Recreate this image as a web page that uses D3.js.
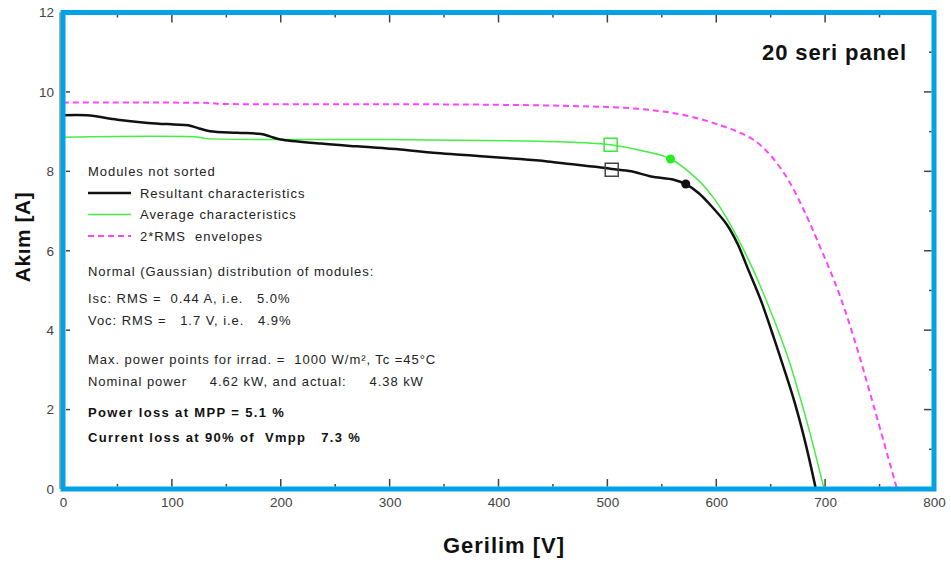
<!DOCTYPE html>
<html>
<head>
<meta charset="utf-8">
<script src="https://cdn.jsdelivr.net/npm/d3@7"></script>
<style>
  html, body { margin: 0; padding: 0; background: #fff; }
  svg { display: block; font-family: "Liberation Sans", Arial, sans-serif; }
  text { white-space: pre; }
</style>
</head>
<body>
<svg id="chart" width="951" height="562"></svg>
<script>
// I-V characteristics of a 20-module series string
const resultantV = [0, 22, 50, 78, 102, 115, 125, 135, 160, 182, 190, 200, 237, 270, 310, 340, 365, 384, 420, 445, 470, 491, 504, 522, 540, 561, 572, 584, 595, 610, 620, 629, 641, 653, 662, 672, 682, 691.5];
const resultantI = [9.41, 9.41, 9.30, 9.22, 9.18, 9.16, 9.08, 9.01, 8.97, 8.94, 8.88, 8.80, 8.70, 8.63, 8.55, 8.47, 8.42, 8.38, 8.31, 8.25, 8.17, 8.11, 8.06, 8.00, 7.87, 7.79, 7.68, 7.45, 7.14, 6.65, 6.15, 5.55, 4.75, 3.80, 3.05, 2.18, 1.15, 0];

const averageV = [0, 125, 130, 300, 436, 480, 503, 530, 558, 583, 597, 610.5, 630, 647, 666, 684, 699];
const averageI = [8.86, 8.86, 8.83, 8.80, 8.76, 8.72, 8.67, 8.53, 8.31, 7.79, 7.35, 6.78, 5.75, 4.68, 3.30, 1.62, 0];

const envelopeV = [0, 135, 145, 300, 384, 460, 500, 531, 550, 570, 590, 607, 622, 635, 650, 666, 680, 693, 711.5, 726.5, 745, 766];
const envelopeI = [9.73, 9.72, 9.70, 9.69, 9.68, 9.65, 9.62, 9.57, 9.51, 9.42, 9.28, 9.13, 8.97, 8.78, 8.40, 7.79, 7.05, 6.25, 5.02, 3.80, 2.05, 0];

// operating points: squares at 90% of Vmpp, dots at the maximum power point
const squarePoints = [{v: 503, i: 8.67, c: "#33ee33"}, {v: 504, i: 8.04, c: "#444"}];
const mppPoints = [{v: 558, i: 8.31, c: "#22ee22"}, {v: 572, i: 7.68, c: "#111"}];

const xTicks = [0, 100, 200, 300, 400, 500, 600, 700, 800];
const yTicks = [0, 2, 4, 6, 8, 10, 12];

const legendItems = [
  {label: "Resultant characteristics", color: "#111", width: 2.5, dash: null},
  {label: "Average characteristics", color: "#44ee44", width: 1.5, dash: null},
  {label: "2*RMS  envelopes", color: "#ff44ff", width: 2, dash: "6,4"}
];
const infoLines = [
  {t: "Normal (Gaussian) distribution of modules:", bold: false},
  {t: "Isc: RMS =  0.44 A, i.e.   5.0%", bold: false},
  {t: "Voc: RMS =   1.7 V, i.e.   4.9%", bold: false},
  {t: "Max. power points for irrad. =  1000 W/m², Tc =45°C", bold: false},
  {t: "Nominal power     4.62 kW, and actual:     4.38 kW", bold: false},
  {t: "Power loss at MPP = 5.1 %", bold: true},
  {t: "Current loss at 90% of  Vmpp   7.3 %", bold: true}
];
const infoY = [276, 303, 325, 364, 386, 417, 442];

const svg = d3.select("#chart");
const x = d3.scaleLinear().domain([0, 800]).range([63, 934]);
const y = d3.scaleLinear().domain([0, 12]).range([489, 12.5]);

// thin dark axis line on the left
svg.append("line").attr("x1", 60).attr("x2", 60).attr("y1", y(12)).attr("y2", y(0))
  .attr("stroke", "#555").attr("stroke-width", 1);

// tick labels
const xAxis = d3.axisBottom(x).tickValues(xTicks).tickSize(0).tickPadding(8);
svg.append("g").attr("transform", `translate(0,${y(0)})`).call(xAxis)
  .call(g => g.select(".domain").remove())
  .selectAll("text").attr("font-size", 13.5).attr("fill", "#444").attr("font-family", "Liberation Sans, Arial, sans-serif");
const yAxis = d3.axisLeft(y).tickValues(yTicks).tickSize(0).tickPadding(8);
svg.append("g").attr("transform", `translate(${x(0) - 1},0)`).call(yAxis)
  .call(g => g.select(".domain").remove())
  .selectAll("text").attr("font-size", 13.5).attr("fill", "#444").attr("font-family", "Liberation Sans, Arial, sans-serif");

// curves
const smooth = d3.line().x(d => x(d[0])).y(d => y(d[1])).curve(d3.curveCatmullRom.alpha(0.5));
const zip = (a, b) => a.map((v, k) => [v, b[k]]);

svg.append("path").datum(zip(envelopeV, envelopeI)).attr("d", smooth)
  .attr("fill", "none").attr("stroke", "#ff44ff").attr("stroke-width", 2).attr("stroke-dasharray", "6,4");
svg.append("path").datum(zip(averageV, averageI)).attr("d", smooth)
  .attr("fill", "none").attr("stroke", "#44ee44").attr("stroke-width", 1.5);
svg.append("path").datum(zip(resultantV, resultantI)).attr("d", smooth)
  .attr("fill", "none").attr("stroke", "#111").attr("stroke-width", 2.5).attr("stroke-linejoin", "round");

svg.selectAll("rect.op").data(squarePoints).join("rect").attr("class", "op")
  .attr("x", d => x(d.v) - 6.5).attr("y", d => y(d.i) - 6.5).attr("width", 13).attr("height", 13)
  .attr("fill", "none").attr("stroke", d => d.c).attr("stroke-width", 1.5);
svg.selectAll("circle.mpp").data(mppPoints).join("circle").attr("class", "mpp")
  .attr("cx", d => x(d.v)).attr("cy", d => y(d.i)).attr("r", 4.5).attr("fill", d => d.c);

// plot frame
svg.append("rect").attr("x", x(0)).attr("y", y(12)).attr("width", x(800) - x(0)).attr("height", y(0) - y(12))
  .attr("fill", "none").attr("stroke", "#00a2e6").attr("stroke-width", 5);

// minor/major ticks drawn inward from every side
const xMinor = d3.range(50, 800, 100);
const yMinor = d3.range(1, 12, 2);
const ticksG = svg.append("g").attr("stroke", "#444").attr("stroke-width", 1.5);
xTicks.slice(1, -1).forEach(v => {
  ticksG.append("line").attr("x1", x(v)).attr("x2", x(v)).attr("y1", y(0) - 2.5).attr("y2", y(0) - 10);
  ticksG.append("line").attr("x1", x(v)).attr("x2", x(v)).attr("y1", y(12) + 2.5).attr("y2", y(12) + 10);
});
xMinor.forEach(v => {
  ticksG.append("line").attr("x1", x(v)).attr("x2", x(v)).attr("y1", y(0) - 2.5).attr("y2", y(0) - 5);
  ticksG.append("line").attr("x1", x(v)).attr("x2", x(v)).attr("y1", y(12) + 2.5).attr("y2", y(12) + 5);
});
yTicks.slice(1, -1).forEach(v => {
  ticksG.append("line").attr("x1", 66).attr("x2", 70).attr("y1", y(v)).attr("y2", y(v));
  ticksG.append("line").attr("x1", x(800) - 2.5).attr("x2", x(800) - 10).attr("y1", y(v)).attr("y2", y(v));
});
yMinor.forEach(v => {
  ticksG.append("line").attr("x1", x(800) - 2.5).attr("x2", x(800) - 5).attr("y1", y(v)).attr("y2", y(v));
});

// legend
const lg = svg.append("g").attr("font-size", 13).attr("letter-spacing", 0.95).attr("fill", "#222");
lg.append("text").attr("x", 88).attr("y", 176).text("Modules not sorted");
legendItems.forEach((d, k) => {
  const ly = 193 + k * 21.5;
  lg.append("line").attr("x1", 88).attr("x2", 131).attr("y1", ly).attr("y2", ly)
    .attr("stroke", d.color).attr("stroke-width", d.width).attr("stroke-dasharray", d.dash);
  lg.append("text").attr("x", 140).attr("y", ly + 4.5).text(d.label);
});

// summary text
const info = svg.append("g").attr("font-size", 13).attr("fill", "#222");
infoLines.forEach((d, k) => {
  info.append("text").attr("x", 88).attr("y", infoY[k]).text(d.t)
    .attr("font-weight", d.bold ? "bold" : "normal")
    .attr("letter-spacing", d.bold ? 1.35 : 0.95)
    .attr("fill", d.bold ? "#111" : "#222");
});

// titles
svg.append("text").attr("x", 907).attr("y", 60).attr("text-anchor", "end").attr("letter-spacing", 0.9)
  .attr("font-size", 22).attr("font-weight", "bold").attr("fill", "#111").text("20 seri panel");
svg.append("text").attr("x", 504).attr("y", 553).attr("text-anchor", "middle").attr("letter-spacing", 1)
  .attr("font-size", 22).attr("font-weight", "bold").attr("fill", "#111").text("Gerilim [V]");
svg.append("text").attr("transform", "translate(30,237) rotate(-90)").attr("text-anchor", "middle")
  .attr("letter-spacing", 0.5)
  .attr("font-size", 21).attr("font-weight", "bold").attr("fill", "#111").text("Akım [A]");
</script>
</body>
</html>
